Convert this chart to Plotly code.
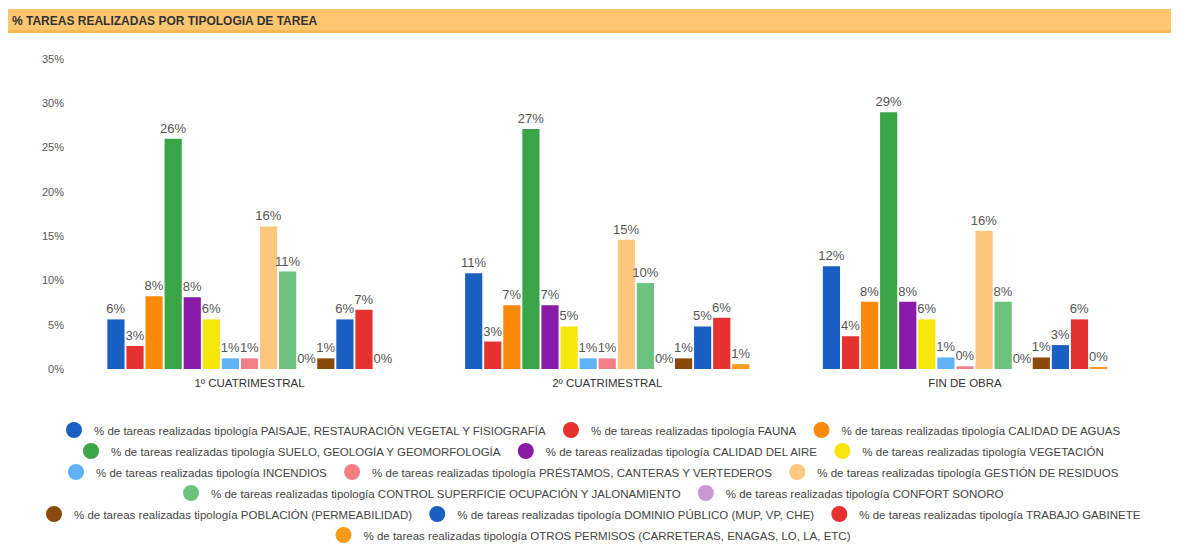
import plotly.graph_objects as go

categories = ["1º CUATRIMESTRAL", "2º CUATRIMESTRAL", "FIN DE OBRA"]

series_names = [
    "% de tareas realizadas tipología PAISAJE, RESTAURACIÓN VEGETAL Y FISIOGRAFÍA",
    "% de tareas realizadas tipología FAUNA",
    "% de tareas realizadas tipología CALIDAD DE AGUAS",
    "% de tareas realizadas tipología SUELO, GEOLOGÍA Y GEOMORFOLOGÍA",
    "% de tareas realizadas tipología CALIDAD DEL AIRE",
    "% de tareas realizadas tipología VEGETACIÓN",
    "% de tareas realizadas tipología INCENDIOS",
    "% de tareas realizadas tipología PRÉSTAMOS, CANTERAS Y VERTEDEROS",
    "% de tareas realizadas tipología GESTIÓN DE RESIDUOS",
    "% de tareas realizadas tipología CONTROL SUPERFICIE OCUPACIÓN Y JALONAMIENTO",
    "% de tareas realizadas tipología CONFORT SONORO",
    "% de tareas realizadas tipología POBLACIÓN (PERMEABILIDAD)",
    "% de tareas realizadas tipología DOMINIO PÚBLICO (MUP, VP, CHE)",
    "% de tareas realizadas tipología TRABAJO GABINETE",
    "% de tareas realizadas tipología OTROS PERMISOS (CARRETERAS, ENAGAS, LO, LA, ETC)",
]

paisaje = [5.6, 10.8, 11.6]
fauna = [2.6, 3.1, 3.7]
calidad_aguas = [8.2, 7.2, 7.6]
suelo = [26.0, 27.1, 29.0]
calidad_aire = [8.1, 7.2, 7.6]
vegetacion = [5.6, 4.8, 5.6]
incendios = [1.2, 1.2, 1.3]
prestamos = [1.2, 1.2, 0.3]
residuos = [16.1, 14.6, 15.6]
control_superficie = [11.0, 9.7, 7.6]
confort_sonoro = [0.0, 0.0, 0.0]
poblacion = [1.2, 1.2, 1.3]
dominio_publico = [5.6, 4.8, 2.7]
trabajo_gabinete = [6.7, 5.8, 5.6]
otros_permisos = [0.0, 0.55, 0.2]

series_values = [paisaje, fauna, calidad_aguas, suelo, calidad_aire, vegetacion,
                 incendios, prestamos, residuos, control_superficie, confort_sonoro,
                 poblacion, dominio_publico, trabajo_gabinete, otros_permisos]

colors = ["#1a5fc2", "#e5322f", "#fb8a0a", "#3aa547", "#8a1aa8", "#f7e60b",
          "#5fb2f4", "#f07f88", "#fdc87e", "#6cc37d", "#c996d6", "#8a4a0c",
          "#1a5fc2", "#e5322f", "#fb9a1a"]

legend_rows = [0, 0, 0, 1, 1, 1, 2, 2, 2, 3, 3, 4, 4, 4, 5]

# Page offset: the browser body has an 8px margin
OFF = 8
W, H = 1179 - OFF, 556 - OFF
# Page-pixel layout targets (converted to figure pixels by subtracting OFF)
T, B = 59 - OFF, 369 - OFF           # y of 35% and 0%
YAXIS_X = 73 - OFF                    # left edge of value axis
C0 = 249.5 - OFF                      # center of first category
UNIT = 357.75                         # px between category centers
row_fig_y = [y - OFF for y in (430, 451, 472, 493, 514, 535)]
LEG_X = 590 - OFF

ph = B - T

def py_to_paper(fy):
    return (B - fy) / ph

x_range = [-C0 / UNIT, (W - C0) / UNIT]

FONT = "Liberation Sans, Arial"

fig = go.Figure()
for name, vals, col in zip(series_names, series_values, colors):
    fig.add_trace(go.Bar(
        x=categories, y=vals, name=name, marker=dict(color=col, line=dict(width=0)),
        texttemplate="%{y:.0f}%", textposition="outside", constraintext="none",
        textfont=dict(size=13, color="#555555", family=FONT), cliponaxis=False,
        showlegend=False, hoverinfo="name+y",
    ))

legend_keys = ["legend", "legend2", "legend3", "legend4", "legend5", "legend6"]
for name, col, row in zip(series_names, colors, legend_rows):
    fig.add_trace(go.Scatter(
        x=[None], y=[None], mode="markers", name=name,
        marker=dict(size=16, color=col, symbol="circle"),
        legend=legend_keys[row], showlegend=True,
    ))

leg_common = dict(orientation="h", xanchor="center", yanchor="middle",
                  x=LEG_X / W, bgcolor="rgba(0,0,0,0)",
                  font=dict(size=11.5, color="#444444", family=FONT),
                  itemsizing="trace", tracegroupgap=0, itemwidth=30)
legends = {}
for i, key in enumerate(legend_keys):
    legends[key] = dict(leg_common, y=py_to_paper(row_fig_y[i]))

fig.update_layout(
    width=W, height=H,
    margin=dict(l=0, r=0, t=T, b=H - B, pad=0, autoexpand=False),
    paper_bgcolor="white", plot_bgcolor="white",
    font=dict(family=FONT, color="#444444"),
    barmode="group", bargap=0.2, bargroupgap=0.1,
    title=dict(text="<b>% TAREAS REALIZADAS POR TIPOLOGIA DE TAREA</b>",
               x=(12 - OFF) / W, xref="container", xanchor="left",
               y=1 - (21 - OFF) / H, yref="container", yanchor="middle",
               font=dict(size=12, color="#333333", family=FONT)),
    xaxis=dict(range=x_range, showgrid=False, zeroline=False, showline=False,
               ticks="", ticklabelstandoff=5,
               tickfont=dict(size=11.5, color="#333333")),
    yaxis=dict(range=[0, 35], dtick=5, ticksuffix="%", showgrid=False,
               zeroline=False, showline=False, ticks="", ticklabelstandoff=9,
               anchor="free", position=YAXIS_X / W,
               tickfont=dict(size=11, color="#555555")),
    shapes=[
        dict(type="rect", xref="paper", yref="paper", x0=0, x1=1,
             y0=py_to_paper(32 - OFF), y1=py_to_paper(9 - OFF),
             fillcolor="#fdc772", line=dict(width=0), layer="below"),
        dict(type="rect", xref="paper", yref="paper", x0=0, x1=1,
             y0=py_to_paper(33 - OFF), y1=py_to_paper(30 - OFF),
             fillcolor="#f9b851", line=dict(width=0), layer="below"),
    ],
    **legends,
)

fig.write_html("out.html")
